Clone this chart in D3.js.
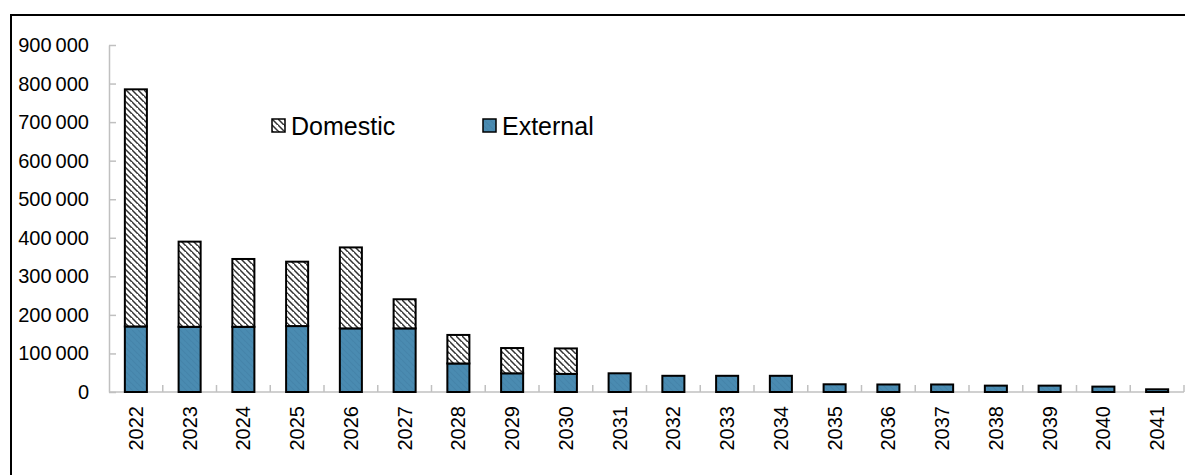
<!DOCTYPE html>
<html><head><meta charset="utf-8">
<script src="https://cdn.jsdelivr.net/npm/d3@7"></script>
<style>body{margin:0;background:#fff}svg{display:block}text{font-family:"Liberation Sans",Arial,sans-serif;fill:#000}</style>
</head><body><div id="chart"></div>
<script>
const years = ["2022","2023","2024","2025","2026","2027","2028","2029","2030","2031","2032","2033","2034","2035","2036","2037","2038","2039","2040","2041"];
const external = [170000,169000,169000,171000,165000,165000,74000,48500,47000,48500,42000,42000,42000,20000,19500,19500,16500,16500,14000,7000];
const domestic = [615000,221000,176000,167000,210000,75500,74000,65500,66000,0,0,0,0,0,0,0,0,0,0,0];
const yTicks = [0,100000,200000,300000,400000,500000,600000,700000,800000,900000];
const seriesNames = ["Domestic","External"];

const W = 1185, H = 475;
const svg = d3.select("#chart").append("svg").attr("width", W).attr("height", H);
const defs = svg.append("defs");
const hatch = defs.append("pattern").attr("id","hatch").attr("patternUnits","userSpaceOnUse")
  .attr("width",6).attr("height",6);
hatch.append("rect").attr("width",6).attr("height",6).attr("fill","#fff");
hatch.append("path").attr("d","M-1,-1L7,7M-4,2L2,8M4,-4L10,2").attr("stroke","#333").attr("stroke-width",1.5);
const bhatch = defs.append("pattern").attr("id","bhatch").attr("patternUnits","userSpaceOnUse")
  .attr("width",6).attr("height",6);
bhatch.append("rect").attr("width",6).attr("height",6).attr("fill","#4a8bb1");
bhatch.append("path").attr("d","M-1,-1L7,7M-4,2L2,8M4,-4L10,2").attr("stroke","#4584aa").attr("stroke-width",1.2);

const x = d3.scaleBand().domain(years).range([109,1184]).paddingInner(0.59).paddingOuter(0.295);
const y = d3.scaleLinear().domain([0,900000]).range([392,45]);

// border (top and left)
svg.append("path").attr("d",`M11,${H}V15H${W}`).attr("fill","none").attr("stroke","#000").attr("stroke-width",2);

// y axis
const yAx = svg.append("g").attr("transform","translate(109,0)")
  .call(d3.axisRight(y).tickValues(yTicks).tickSize(7).tickSizeOuter(0).tickFormat(""));
yAx.select(".domain").attr("stroke","#c0c0c0").attr("stroke-width",1.5);
yAx.selectAll(".tick line").attr("stroke","#c0c0c0").attr("stroke-width",1.5);
svg.append("g").selectAll("text").data(yTicks).join("text")
  .attr("x",89).attr("y",d=>y(d)).attr("dy","0.35em").attr("text-anchor","end")
  .style("font-size","20px")
  .text(d=>d3.format(",")(d).replace(/,/g,"\u2009"));

// x axis
svg.append("line").attr("x1",109).attr("x2",1184).attr("y1",392).attr("y2",392).attr("stroke","#c0c0c0").attr("stroke-width",1.5);
svg.append("g").selectAll("line").data(years).join("line")
  .attr("x1",d=>x(d) + x.bandwidth()/2 + x.step()/2)
  .attr("x2",d=>x(d) + x.bandwidth()/2 + x.step()/2)
  .attr("y1",385).attr("y2",392).attr("stroke","#c0c0c0").attr("stroke-width",1.5);
svg.append("g").selectAll("text").data(years).join("text")
  .attr("transform",d=>`translate(${x(d)+x.bandwidth()/2},406) rotate(-90)`)
  .attr("dy","0.35em").attr("text-anchor","end").style("font-size","20px").text(d=>d);

// bars
const stack = years.map((yr,i)=>({yr, ext:external[i], dom:domestic[i]}));
const g = svg.append("g");
g.selectAll("rect.ext").data(stack).join("rect").attr("class","ext")
  .attr("x",d=>x(d.yr)).attr("width",x.bandwidth())
  .attr("y",d=>y(d.ext)).attr("height",d=>y(0)-y(d.ext))
  .attr("fill","url(#bhatch)").attr("stroke","#000").attr("stroke-width",2);
g.selectAll("rect.dom").data(stack.filter(d=>d.dom>0)).join("rect").attr("class","dom")
  .attr("x",d=>x(d.yr)).attr("width",x.bandwidth())
  .attr("y",d=>y(d.ext+d.dom)).attr("height",d=>y(d.ext)-y(d.ext+d.dom))
  .attr("fill","url(#hatch)").attr("stroke","#000").attr("stroke-width",2);

// legend
const leg = [{name:seriesNames[0], fill:"url(#hatch)", x:272},{name:seriesNames[1], fill:"url(#bhatch)", x:483}];
const lg = svg.append("g").selectAll("g").data(leg).join("g").attr("transform",d=>`translate(${d.x},119)`);
lg.append("rect").attr("width",13).attr("height",13).attr("fill",d=>d.fill).attr("stroke","#000").attr("stroke-width",1.5);
lg.append("text").attr("x",19).attr("y",16).style("font-size","25px").text(d=>d.name);
</script></body></html>
